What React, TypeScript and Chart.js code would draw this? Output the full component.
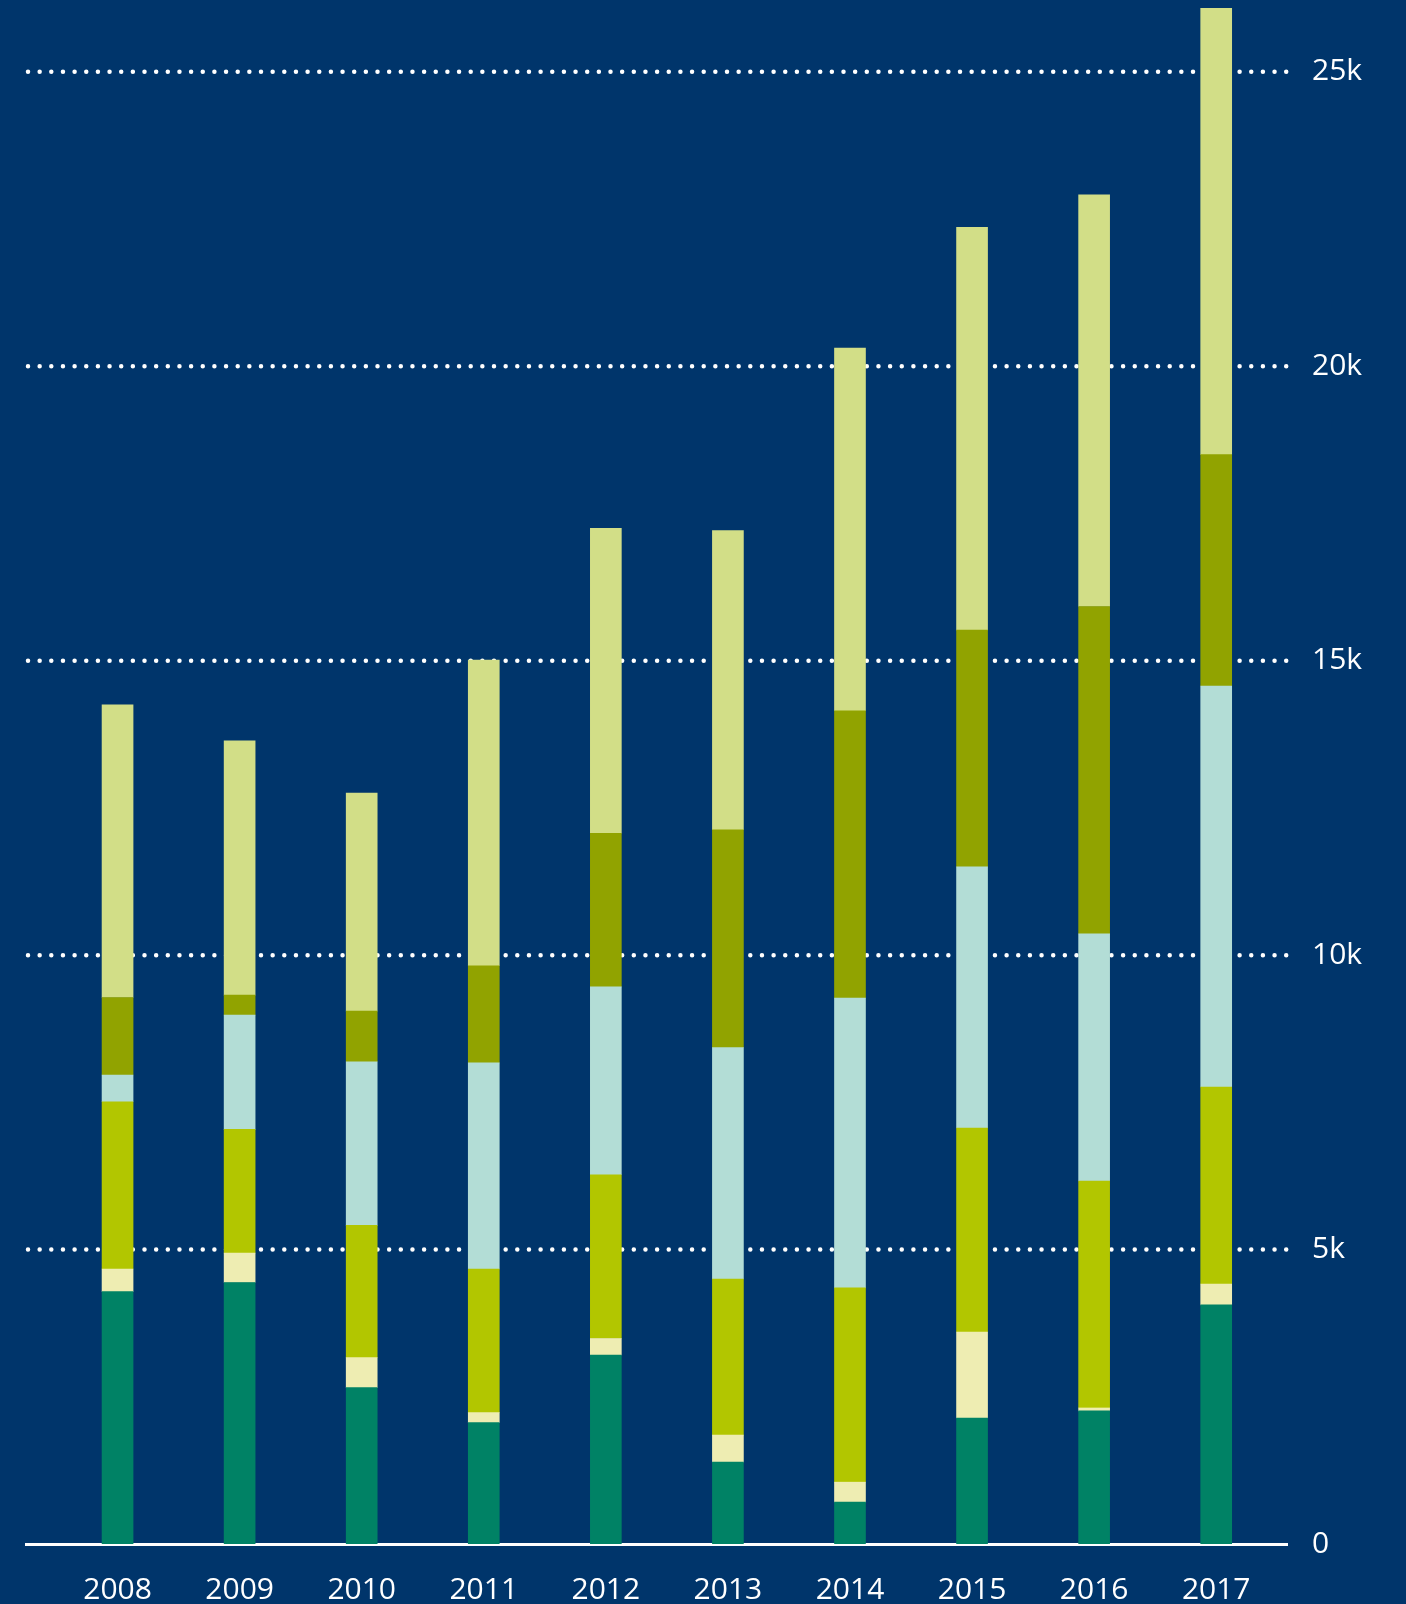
import React, { useEffect, useRef } from 'react';
import { Chart, registerables } from 'chart.js';

Chart.register(...registerables);

const years = [2008, 2009, 2010, 2011, 2012, 2013, 2014, 2015, 2016, 2017];
const yearLabels = ['2008', '2009', '2010', '2011', '2012', '2013', '2014', '2015', '2016', '2017'];

// stacked segments, bottom to top
const seriesTeal = [4285, 4440, 2655, 2060, 3210, 1390, 710, 2140, 2260, 4060];
const seriesPale = [385, 500, 510, 170, 280, 460, 340, 1460, 50, 355];
const seriesLime = [2840, 2100, 2245, 2440, 2780, 2650, 3300, 3465, 3855, 3345];
const seriesAqua = [455, 1940, 2780, 3500, 3190, 3930, 4920, 4435, 4195, 6810];
const seriesOlive = [1315, 340, 860, 1650, 2610, 3700, 4880, 4020, 5560, 3930];
const seriesLight = [4970, 4320, 3700, 5190, 5180, 5080, 6160, 6840, 6990, 7580];

const yTickValues = [0, 5000, 10000, 15000, 20000, 25000];
const yTickLabels = ['0', '5k', '10k', '15k', '20k', '25k'];

const BG = '#00356B';
const FONT = "'Open Sans', 'DejaVu Sans', sans-serif";

const bgPlugin = {
  id: 'bgFill',
  beforeDraw(chart: any) {
    const { ctx, width, height } = chart;
    ctx.save();
    ctx.fillStyle = BG;
    ctx.fillRect(0, 0, width, height);
    ctx.restore();
  },
};

const dottedGrid = {
  id: 'dottedGrid',
  beforeDatasetsDraw(chart: any) {
    const { ctx, chartArea, scales } = chart;
    const y = scales.y;
    ctx.save();
    ctx.strokeStyle = '#ffffff';
    ctx.lineWidth = 4.5;
    ctx.lineCap = 'round';
    ctx.setLineDash([0, 11.65]);
    y.ticks.forEach((t: any) => {
      if (t.value === 0) return;
      const py = y.getPixelForValue(t.value);
      ctx.beginPath();
      ctx.moveTo(chartArea.left + 2, py);
      ctx.lineTo(chartArea.right, py);
      ctx.stroke();
    });
    ctx.restore();
  },
};

function mk(label: string, values: number[], color: string) {
  return {
    label,
    data: years.map((x, i) => ({ x, y: values[i] })),
    backgroundColor: color,
    borderWidth: 0,
    barThickness: 31,
  };
}

export default function App() {
  const ref = useRef<HTMLCanvasElement>(null);

  useEffect(() => {
    document.body.style.margin = '0';
    document.body.style.background = BG;
    const canvas = ref.current;
    if (!canvas) return;
    const chart = new Chart(canvas, {
      type: 'bar',
      data: {
        datasets: [
          mk('A', seriesTeal, '#008265'),
          mk('B', seriesPale, '#EEEDB2'),
          mk('C', seriesLime, '#B2C600'),
          mk('D', seriesAqua, '#B3DDD6'),
          mk('E', seriesOlive, '#91A300'),
          mk('F', seriesLight, '#D2DE87'),
        ] as any,
      },
      options: {
        responsive: false,
        animation: false,
        layout: { padding: { left: 26, top: 0, right: 0, bottom: 0 } },
        plugins: { legend: { display: false }, tooltip: { enabled: false } },
        scales: {
          x: {
            type: 'linear',
            stacked: true,
            offset: false,
            min: 2007.25,
            max: 2017.58,
            grid: { display: false, drawTicks: false, offset: false },
            border: { display: true, color: '#ffffff', width: 3 },
            afterFit: (s: any) => {
              s.height = 60;
              s.paddingLeft = 0;
              s.paddingRight = 0;
            },
            afterBuildTicks: (s: any) => { s.ticks = years.map((v) => ({ value: v })); },
            ticks: {
              color: '#ffffff',
              font: { family: FONT, size: 30 },
              padding: 28,
              maxRotation: 0,
              autoSkip: false,
              callback: (v: any) => yearLabels[years.indexOf(Number(v))] ?? '',
            },
          },
          y: {
            type: 'linear',
            position: 'right',
            stacked: true,
            min: 0,
            max: 26220,
            grid: { display: false, drawTicks: false },
            border: { display: false },
            afterFit: (s: any) => {
              s.width = 119;
              s.paddingTop = 0;
              s.paddingBottom = 0;
            },
            afterBuildTicks: (s: any) => { s.ticks = yTickValues.map((v) => ({ value: v })); },
            ticks: {
              color: '#ffffff',
              font: { family: FONT, size: 30 },
              padding: 25,
              callback: (v: any) => yTickLabels[yTickValues.indexOf(Number(v))] ?? '',
            },
          },
        },
      },
      plugins: [bgPlugin, dottedGrid],
    } as any);
    return () => chart.destroy();
  }, []);

  return (
    <div style={{ width: 1406, height: 1604, background: BG }}>
      <canvas ref={ref} width={1406} height={1604} style={{ display: 'block' }} />
    </div>
  );
}
